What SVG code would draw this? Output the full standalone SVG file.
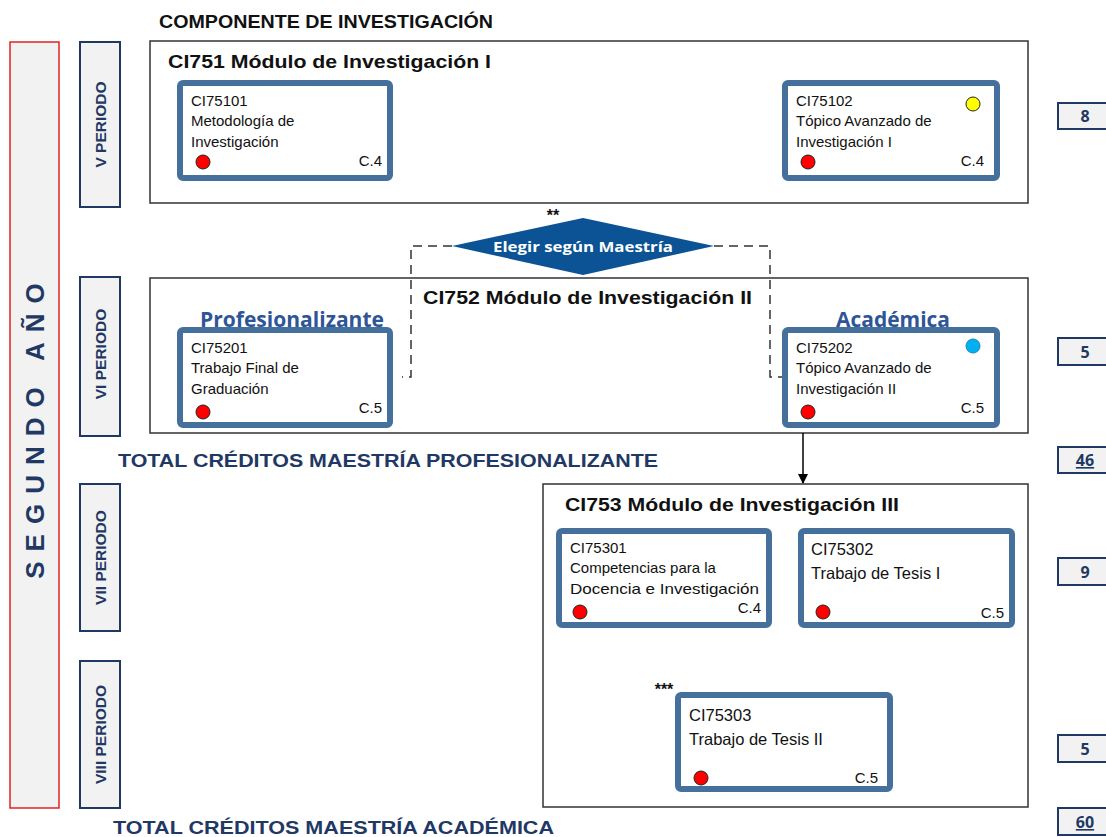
<svg xmlns="http://www.w3.org/2000/svg" width="1106" height="837" viewBox="0 0 1106 837">
<defs>
<style>
.mod{fill:#fff;stroke:#333;stroke-width:1.5}
.crs{fill:#fff;stroke:#45709c;stroke-width:6}
.per{fill:#f2f2f2;stroke:#1f3864;stroke-width:2}
.num{fill:#f2f2f2;stroke:#1f3864;stroke-width:2}
.t{font-family:"Liberation Sans",Arial,sans-serif;font-size:15px;fill:#111}
.tb{font-family:"Liberation Sans",Arial,sans-serif;font-size:16.5px;fill:#111}
.mt{font-family:"Liberation Sans",Arial,sans-serif;font-size:19px;font-weight:bold;fill:#111}
.pt{font-family:"Liberation Sans",Arial,sans-serif;font-size:15.5px;font-weight:bold;fill:#1f3864}
.tot{font-family:"Liberation Sans",Arial,sans-serif;font-size:19px;font-weight:bold;fill:#1f3864}
.nt{font-family:"Open Sans","Liberation Sans",sans-serif;font-size:16px;font-weight:bold;fill:#1f3864}
.lbl{font-family:"Open Sans","Liberation Sans",sans-serif;font-size:21px;font-weight:bold;fill:#2e5597}
.red{fill:#ff0000;stroke:#222;stroke-width:1}
.dash{fill:none;stroke:#333;stroke-width:1.5;stroke-dasharray:9,6}
</style>
<marker id="arr" markerWidth="10" markerHeight="10" refX="9" refY="5" orient="auto" markerUnits="userSpaceOnUse">
<path d="M0,0 L10,5 L0,10 z" fill="#000"/>
</marker>
</defs>
<rect width="1106" height="837" fill="#fff"/>

<text x="159" y="28" class="mt" textLength="334" lengthAdjust="spacingAndGlyphs">COMPONENTE DE INVESTIGACIÓN</text>

<g id="year">
<rect x="10" y="42" width="49" height="766" fill="#f2f2f2" stroke="#e32222" stroke-width="1.5"/>
<text transform="translate(44,426) rotate(-90)" text-anchor="middle" font-family="Liberation Sans,Arial,sans-serif" font-size="26" font-weight="bold" fill="#1f3864" letter-spacing="10">SEGUNDO AÑO</text>
</g>

<g id="periodV"><rect x="80" y="42" width="40" height="165" class="per"/><text transform="translate(106,124.5) rotate(-90)" text-anchor="middle" class="pt">V PERIODO</text></g>
<g id="periodVI"><rect x="80" y="277" width="40" height="159" class="per"/><text transform="translate(106,354) rotate(-90)" text-anchor="middle" class="pt">VI PERIODO</text></g>
<g id="periodVII"><rect x="80" y="484" width="40" height="147" class="per"/><text transform="translate(106,557.5) rotate(-90)" text-anchor="middle" class="pt">VII PERIODO</text></g>
<g id="periodVIII"><rect x="80" y="661" width="40" height="147" class="per"/><text transform="translate(106,734.5) rotate(-90)" text-anchor="middle" class="pt">VIII PERIODO</text></g>

<g id="mod751">
<rect x="150" y="41" width="878" height="162" class="mod"/>
<text x="168" y="68" class="mt" textLength="323" lengthAdjust="spacingAndGlyphs">CI751 Módulo de Investigación I</text>
</g>
<g id="mod752">
<rect x="150" y="278" width="878" height="155" class="mod"/>
<text x="423" y="304" class="mt" textLength="329" lengthAdjust="spacingAndGlyphs">CI752 Módulo de Investigación II</text>
<text x="292" y="327" text-anchor="middle" class="lbl" textLength="184" lengthAdjust="spacingAndGlyphs">Profesionalizante</text>
<text x="893" y="327" text-anchor="middle" class="lbl" textLength="114" lengthAdjust="spacingAndGlyphs">Académica</text>
</g>
<g id="mod753">
<rect x="543" y="484" width="485" height="323" class="mod"/>
<text x="565" y="511" class="mt" textLength="334" lengthAdjust="spacingAndGlyphs">CI753 Módulo de Investigación III</text>
</g>

<g id="connectors">
<path d="M452,246 H411 V377 H402" class="dash"/>
<path d="M714,246 H770 V377 H782" class="dash"/>
<line x1="803" y1="433" x2="803" y2="483" stroke="#000" stroke-width="1.5" marker-end="url(#arr)"/>
</g>

<g id="choice">
<polygon points="583,218 714,246 583,275 452,246" fill="#0b5394"/>
<text x="583" y="252" text-anchor="middle" font-family="Open Sans,Liberation Sans,sans-serif" font-size="14.5" font-weight="bold" fill="#fff" textLength="180" lengthAdjust="spacingAndGlyphs">Elegir según Maestría</text>
<text x="553" y="221" text-anchor="middle" font-family="Liberation Sans,Arial,sans-serif" font-size="16" font-weight="bold" fill="#111">**</text>
</g>

<g id="c75101">
<rect x="180" y="83" width="210" height="95" rx="3" class="crs"/>
<text class="t"><tspan x="191" y="106">CI75101</tspan><tspan x="191" y="126">Metodología de</tspan><tspan x="191" y="147">Investigación</tspan></text>
<circle cx="203" cy="162" r="7" class="red"/>
<text x="382" y="166" text-anchor="end" class="t">C.4</text>
</g>
<g id="c75102">
<rect x="785" y="83" width="212" height="95" rx="3" class="crs"/>
<text class="t"><tspan x="796" y="106">CI75102</tspan><tspan x="796" y="126">Tópico Avanzado de</tspan><tspan x="796" y="147">Investigación I</tspan></text>
<circle cx="973" cy="104" r="7" fill="#ffff00" stroke="#222" stroke-width="1"/>
<circle cx="808" cy="162" r="7" class="red"/>
<text x="984" y="166" text-anchor="end" class="t">C.4</text>
</g>
<g id="c75201">
<rect x="180" y="330" width="210" height="95" rx="3" class="crs"/>
<text class="t"><tspan x="191" y="353">CI75201</tspan><tspan x="191" y="373">Trabajo Final de</tspan><tspan x="191" y="394">Graduación</tspan></text>
<circle cx="203" cy="412" r="7" class="red"/>
<text x="382" y="413" text-anchor="end" class="t">C.5</text>
</g>
<g id="c75202">
<rect x="785" y="330" width="212" height="95" rx="3" class="crs"/>
<text class="t"><tspan x="796" y="353">CI75202</tspan><tspan x="796" y="373">Tópico Avanzado de</tspan><tspan x="796" y="394">Investigación II</tspan></text>
<circle cx="973" cy="346" r="7" fill="#00b0f0" stroke="#1a88c0" stroke-width="1"/>
<circle cx="808" cy="412" r="7" class="red"/>
<text x="984" y="413" text-anchor="end" class="t">C.5</text>
</g>
<g id="c75301">
<rect x="559" y="531" width="210" height="94" rx="3" class="crs"/>
<text class="t"><tspan x="570" y="553">CI75301</tspan><tspan x="570" y="573">Competencias para la</tspan><tspan x="570" y="594" textLength="189" lengthAdjust="spacingAndGlyphs">Docencia e Investigación</tspan></text>
<circle cx="580" cy="612" r="7" class="red"/>
<text x="761" y="613" text-anchor="end" class="t">C.4</text>
</g>
<g id="c75302">
<rect x="801" y="531" width="211" height="94" rx="3" class="crs"/>
<text class="tb"><tspan x="811" y="555">CI75302</tspan><tspan x="811" y="579">Trabajo de Tesis I</tspan></text>
<circle cx="823" cy="612" r="7" class="red"/>
<text x="1004" y="618" text-anchor="end" class="t">C.5</text>
</g>
<g id="c75303">
<text x="664" y="695" text-anchor="middle" font-family="Liberation Sans,Arial,sans-serif" font-size="16" font-weight="bold" fill="#111">***</text>
<rect x="678" y="695" width="212" height="94" rx="3" class="crs"/>
<text class="tb"><tspan x="689" y="721">CI75303</tspan><tspan x="689" y="745">Trabajo de Tesis II</tspan></text>
<circle cx="701" cy="778" r="7" class="red"/>
<text x="878" y="783" text-anchor="end" class="t">C.5</text>
</g>

<text x="118" y="467" class="tot" textLength="540" lengthAdjust="spacingAndGlyphs">TOTAL CRÉDITOS MAESTRÍA PROFESIONALIZANTE</text>
<text x="113" y="834" class="tot" textLength="441" lengthAdjust="spacingAndGlyphs">TOTAL CRÉDITOS MAESTRÍA ACADÉMICA</text>

<g id="credits">
<rect x="1058" y="103" width="60" height="26" class="num"/><text x="1085" y="122" text-anchor="middle" class="nt">8</text>
<rect x="1058" y="338" width="60" height="27" class="num"/><text x="1085" y="358" text-anchor="middle" class="nt">5</text>
<rect x="1058" y="447" width="60" height="26" class="num"/><text x="1085" y="466" text-anchor="middle" class="nt" text-decoration="underline">46</text>
<rect x="1058" y="558" width="60" height="27" class="num"/><text x="1085" y="578" text-anchor="middle" class="nt">9</text>
<rect x="1058" y="735" width="60" height="27" class="num"/><text x="1085" y="755" text-anchor="middle" class="nt">5</text>
<rect x="1058" y="808" width="60" height="27" class="num"/><text x="1085" y="828" text-anchor="middle" class="nt" text-decoration="underline">60</text>
</g>
</svg>
